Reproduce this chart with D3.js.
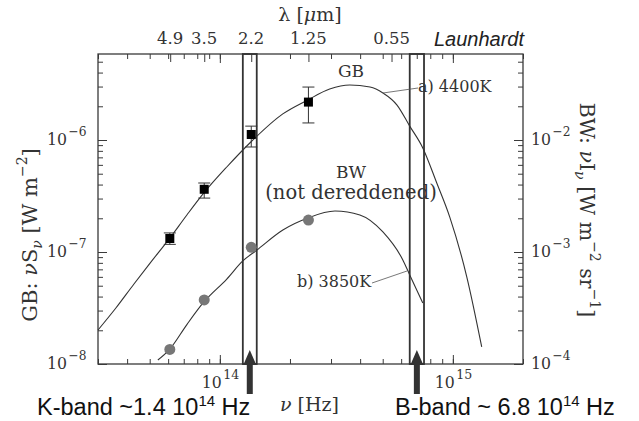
<!DOCTYPE html>
<html><head><meta charset="utf-8">
<script src="https://cdn.jsdelivr.net/npm/d3@7"></script>
<style>body{margin:0;background:#fff}</style>
</head><body>
<svg id="c" width="639" height="421"></svg>
<script>
// ---- data ----
const gbFreq = [6.1e13, 8.57e13, 1.364e14, 2.4e14];
const gbFlux = [1.32e-7, 3.63e-7, 1.12e-6, 2.18e-6];
const gbLow  = [1.17e-7, 3.03e-7, 8.66e-7, 1.42e-6];
const gbHigh = [1.48e-7, 4.13e-7, 1.33e-6, 2.97e-6];
const bwFreq = [6.1e13, 8.57e13, 1.364e14, 2.4e14];
const bwFlux = [1.35e-4, 3.73e-4, 1.10e-3, 1.93e-3];
const curveAFreq = [3.0e13, 3.58e13, 4.28e13, 5.0e13, 6.1e13, 7.22e13, 8.54e13, 1.071e14, 1.345e14, 1.863e14, 2.386e14, 2.96e14, 3.61e14, 4.41e14, 5.01e14, 5.76e14, 6.53e14, 7.43e14, 8.53e14, 9.7e14, 1.148e15, 1.33e15];
const curveAFlux = [2.01e-8, 3.16e-8, 5.18e-8, 7.88e-8, 1.33e-7, 2.14e-7, 3.37e-7, 5.74e-7, 9.4e-7, 1.71e-6, 2.28e-6, 2.85e-6, 3.10e-6, 2.97e-6, 2.63e-6, 2.05e-6, 1.33e-6, 8.5e-7, 4.13e-7, 2.05e-7, 5.98e-8, 1.42e-8];
const curveBFreq = [5.42e13, 6.1e13, 7.22e13, 8.54e13, 1.071e14, 1.255e14, 1.442e14, 1.864e14, 2.386e14, 3.12e14, 3.99e14, 5.01e14, 6.1e14, 6.53e14, 7.43e14];
const curveBFlux = [1.086e-4, 1.36e-4, 2.25e-4, 3.58e-4, 5.74e-4, 8.32e-4, 1.04e-3, 1.57e-3, 2.01e-3, 2.32e-3, 2.14e-3, 1.51e-3, 8.49e-4, 6.24e-4, 3.51e-4];
const lambdaTicks = [4.9, 3.5, 2.2, 1.25, 0.55];
const lambdaLabels = ["4.9", "3.5", "2.2", "1.25", "0.55"];
const freqMajor = [1e14, 1e15];
const freqMajorExp = ["14", "15"];
const leftMajor = [1e-8, 1e-7, 1e-6];
const leftMajorExp = ["\u22128", "\u22127", "\u22126"];
const rightMajor = [1e-4, 1e-3, 1e-2];
const rightMajorExp = ["\u22124", "\u22123", "\u22122"];
const bandLo = [1.255e14, 6.53e14];
const bandHi = [1.44e14, 7.52e14];
const bandText = ["K-band ~1.4 10", "B-band ~ 6.8 10"];
const bandExp = ["14", "14"];

// ---- layout ----
const L = 98, R = 523, T = 54, B = 364;
const svg = d3.select("#c");
const serif = "'DejaVu Serif', serif";
const sans = "'Liberation Sans', Arial, sans-serif";
const x = d3.scaleLog().domain([3e13, 2e15]).range([L, R]);
const yL = d3.scaleLog().domain([1e-8, Math.pow(10, -8 + (B - T) / 112)]).range([B, T]);
const yR = d3.scaleLog().domain([1e-4, Math.pow(10, -4 + (B - T) / 112)]).range([B, T]);
const ink = "#3a3a3a";

function tickAxis(axis, tf, vals, size) {
  const g = svg.append("g").attr("transform", tf)
    .call(axis.tickValues(vals).tickSizeInner(-size).tickSizeOuter(0).tickFormat(""));
  g.select(".domain").remove();
  g.selectAll("line").attr("stroke", ink).attr("stroke-width", 1);
  return g;
}
const xMinor = x.ticks();
tickAxis(d3.axisBottom(x), `translate(0,${B})`, xMinor, 5);
tickAxis(d3.axisBottom(x), `translate(0,${B})`, freqMajor, 9);
tickAxis(d3.axisTop(x), `translate(0,${T})`, xMinor, 5);
tickAxis(d3.axisTop(x), `translate(0,${T})`, freqMajor, 9);
tickAxis(d3.axisTop(x), `translate(0,${T})`, lambdaTicks.map(l => 3e14 / l), 8);
tickAxis(d3.axisLeft(yL), `translate(${L},0)`, yL.ticks(), 5);
tickAxis(d3.axisLeft(yL), `translate(${L},0)`, leftMajor, 9);
tickAxis(d3.axisRight(yR), `translate(${R},0)`, yR.ticks(), 5);
tickAxis(d3.axisRight(yR), `translate(${R},0)`, rightMajor, 9);

svg.append("rect").attr("x", L).attr("y", T).attr("width", R - L).attr("height", B - T)
  .attr("fill", "none").attr("stroke", ink).attr("stroke-width", 1.3);

// band boxes
bandLo.forEach((lo, i) => {
  svg.append("rect").attr("x", x(lo)).attr("y", T).attr("width", x(bandHi[i]) - x(lo)).attr("height", B - T)
    .attr("fill", "none").attr("stroke", "#333").attr("stroke-width", 1.8);
});

// curves
const lineA = d3.line().x(d => x(d[0])).y(d => yL(d[1])).curve(d3.curveMonotoneX);
const lineB = d3.line().x(d => x(d[0])).y(d => yR(d[1])).curve(d3.curveMonotoneX);
svg.append("path").attr("d", lineA(curveAFreq.map((f, i) => [f, curveAFlux[i]])))
  .attr("fill", "none").attr("stroke", "#333").attr("stroke-width", 1.1);
svg.append("path").attr("d", lineB(curveBFreq.map((f, i) => [f, curveBFlux[i]])))
  .attr("fill", "none").attr("stroke", "#333").attr("stroke-width", 1.1);

// GB points with error bars
gbFreq.forEach((f, i) => {
  const cx = x(f);
  svg.append("line").attr("x1", cx).attr("x2", cx).attr("y1", yL(gbLow[i])).attr("y2", yL(gbHigh[i])).attr("stroke", "#333").attr("stroke-width", 1);
  [gbLow[i], gbHigh[i]].forEach(v => svg.append("line").attr("x1", cx - 6).attr("x2", cx + 6).attr("y1", yL(v)).attr("y2", yL(v)).attr("stroke", "#333").attr("stroke-width", 1));
  svg.append("rect").attr("x", cx - 4.5).attr("y", yL(gbFlux[i]) - 4.5).attr("width", 9).attr("height", 9).attr("fill", "#000");
});
// BW points
bwFreq.forEach((f, i) => {
  svg.append("circle").attr("cx", x(f)).attr("cy", yR(bwFlux[i])).attr("r", 5.5).attr("fill", "#777");
});

// leader lines and labels
svg.append("line").attr("x1", 383).attr("y1", 93).attr("x2", 418).attr("y2", 88).attr("stroke", "#555").attr("stroke-width", 0.8);
svg.append("line").attr("x1", 372).attr("y1", 283).attr("x2", 407).attr("y2", 271).attr("stroke", "#555").attr("stroke-width", 0.8);
function txt(xp, yp, s, size, anchor, fam) {
  return svg.append("text").attr("x", xp).attr("y", yp).attr("font-family", fam || serif)
    .attr("font-size", size).attr("text-anchor", anchor || "start").attr("fill", "#333").text(s);
}
txt(418, 92, "a) 4400K", 16);
txt(297, 287, "b) 3850K", 16);
txt(351, 77, "GB", 17, "middle");
txt(351, 178, "BW", 17, "middle");
txt(351, 199, "(not dereddened)", 19.5, "middle");

// top wavelength labels
lambdaTicks.forEach((l, i) => txt(x(3e14 / l), 44, lambdaLabels[i], 16.5, "middle"));
// lambda title
const lt = svg.append("text").attr("x", 310).attr("y", 21).attr("font-family", serif).attr("font-size", 19).attr("text-anchor", "middle").attr("fill", "#333");
lt.append("tspan").text("\u03bb  [");
lt.append("tspan").attr("font-style", "italic").text("\u03bc");
lt.append("tspan").text("m]");
// Launhardt
svg.append("text").attr("x", 524).attr("y", 46).attr("text-anchor", "end").attr("font-family", sans)
  .attr("font-style", "italic").attr("font-size", 20).attr("fill", "#222").text("Launhardt");

// power-of-ten labels: "10" + superscript, widths matched to the reference
function supLabel(xp, yp, sup, size, supSize, baseW, supW) {
  const g = svg.append("g");
  g.append("text").attr("x", xp).attr("y", yp).attr("font-family", serif).attr("font-size", size)
    .attr("fill", "#333").attr("textLength", baseW).attr("lengthAdjust", "spacingAndGlyphs").text("10");
  g.append("text").attr("x", xp + baseW + 1.5).attr("y", yp - 9).attr("font-family", serif).attr("font-size", supSize)
    .attr("fill", "#333").attr("textLength", supW).attr("lengthAdjust", "spacingAndGlyphs").text(sup);
  return g;
}
freqMajor.forEach((f, i) => supLabel(x(f) - 18, 388, freqMajorExp[i], 17, 13, 20, 16));
leftMajor.forEach((v, i) => supLabel(47, yL(v) + 5, leftMajorExp[i], 17, 13, 20, 18));
rightMajor.forEach((v, i) => supLabel(531, yR(v) + 5, rightMajorExp[i], 17, 13, 20, 18));

// axis titles
const nl = svg.append("text").attr("x", 280).attr("y", 411).attr("font-family", serif).attr("font-size", 19).attr("fill", "#333");
nl.append("tspan").attr("font-style", "italic").text("\u03bd");
nl.append("tspan").text(" [Hz]");

const yl = svg.append("text").attr("transform", "translate(37,235) rotate(-90)").attr("text-anchor", "middle")
  .attr("font-family", serif).attr("font-size", 21).attr("fill", "#333");
yl.append("tspan").text("GB:  ");
yl.append("tspan").attr("font-style", "italic").text("\u03bd");
yl.append("tspan").text("S");
yl.append("tspan").attr("dy", 5).attr("font-size", 14).attr("font-style", "italic").text("\u03bd");
yl.append("tspan").attr("dy", -5).text(" [W m");
yl.append("tspan").attr("dy", -10).attr("font-size", 14).text("\u22122");
yl.append("tspan").attr("dy", 10).text("]");

const yr = svg.append("text").attr("transform", "translate(580,210) rotate(90)").attr("text-anchor", "middle")
  .attr("font-family", serif).attr("font-size", 20.5).attr("fill", "#333");
yr.append("tspan").text("BW:  ");
yr.append("tspan").attr("font-style", "italic").text("\u03bd");
yr.append("tspan").text("I");
yr.append("tspan").attr("dy", 5).attr("font-size", 14).attr("font-style", "italic").text("\u03bd");
yr.append("tspan").attr("dy", -5).text(" [W m");
yr.append("tspan").attr("dy", -10).attr("font-size", 14).text("\u22122");
yr.append("tspan").attr("dy", 10).text(" sr");
yr.append("tspan").attr("dy", -10).attr("font-size", 14).text("\u22121");
yr.append("tspan").attr("dy", 10).text("]");

// band arrows & labels
bandLo.forEach((lo, i) => {
  const cx = Math.sqrt(lo * bandHi[i]);
  const ax = x(cx);
  svg.append("path").attr("d", `M${ax},350 L${ax + 6.5},365 L${ax + 3},365 L${ax + 3},394 L${ax - 3},394 L${ax - 3},365 L${ax - 6.5},365 Z`)
    .attr("fill", "#333");
});
const bandX = [37, 395];
bandText.forEach((s, i) => {
  const t = svg.append("text").attr("x", bandX[i]).attr("y", 414.5).attr("font-family", sans).attr("font-size", 23.5).attr("fill", "#111");
  t.append("tspan").text(s);
  t.append("tspan").attr("dy", -9).attr("font-size", 15).text(bandExp[i]);
  t.append("tspan").attr("dy", 9).text(" Hz");
});
</script>
</body></html>
